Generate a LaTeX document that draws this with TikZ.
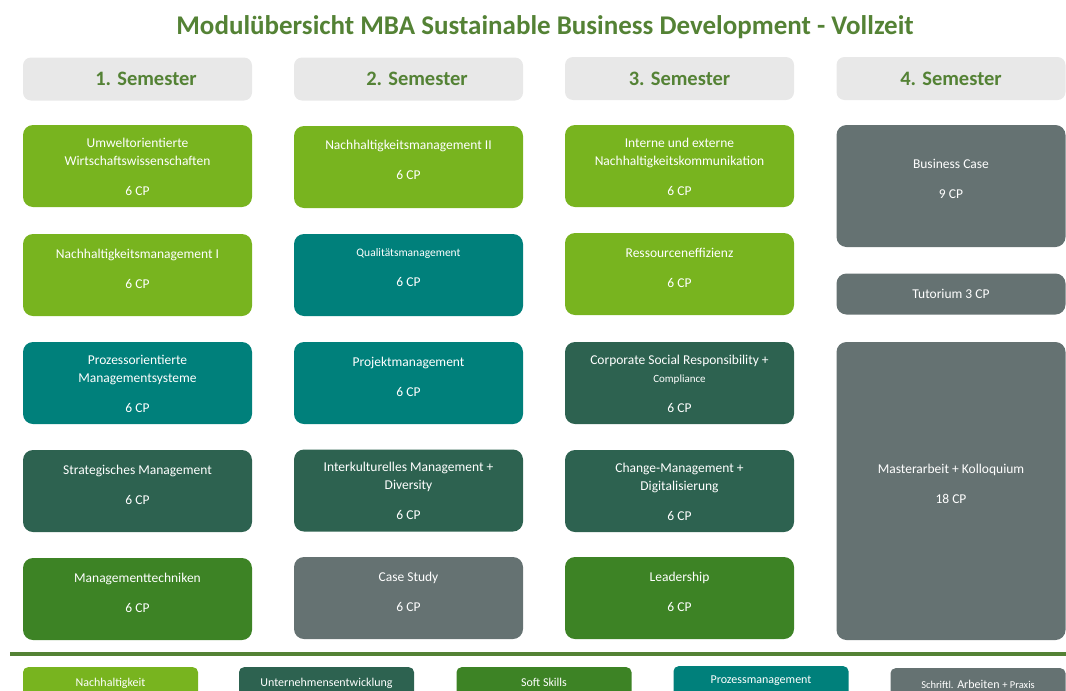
\documentclass[tikz,border=0pt]{standalone}
\usepackage{fontspec}
\setmainfont{Carlito}
\usetikzlibrary{positioning}
\definecolor{nachh}{HTML}{78B41F}
\definecolor{unter}{HTML}{2D6250}
\definecolor{soft}{HTML}{3D8325}
\definecolor{prozess}{HTML}{00807B}
\definecolor{schrift}{HTML}{657272}
\definecolor{kopf}{HTML}{E8E8E8}
\definecolor{titel}{HTML}{548235}

\begin{document}
\begin{tikzpicture}[x=1pt, y=-1pt,
    semester/.style={fill=kopf, rounded corners=8pt, minimum width=229pt, minimum height=43pt, inner sep=0pt},
    semtext/.style={inner sep=0pt, text=titel, font=\fontsize{20.5}{24}\selectfont\bfseries},
    modul/.style={rounded corners=10pt, minimum width=229pt, minimum height=82pt, inner sep=0pt},
    modtext/.style={text=white, align=center, inner sep=0pt, font=\fontsize{13.5}{18}\selectfont},
    legende/.style={rounded corners=5pt, minimum width=175pt, minimum height=40pt, inner sep=0pt, anchor=north},
    legtext/.style={text=white, inner sep=0pt, font=\fontsize{12}{14}\selectfont}]

    \clip (0, 0) rectangle (1066, 691);

    \node[text=titel, font=\fontsize{27}{32}\selectfont\bfseries] (titel) at (545, 27)
      {Modulübersicht MBA Sustainable Business Development - Vollzeit};

    \node[semester] (sem1) at (137.5, 79) {};
    \node[semtext] at ([xshift=8.5pt]sem1.center) {1. Semester};
    \node[semester] (sem2) at (408.5, 79) {};
    \node[semtext] at ([xshift=8.5pt]sem2.center) {2. Semester};
    \node[semester] (sem3) at (679.5, 78.5) {};
    \node[semtext] at (sem3.center) {3. Semester};
    \node[semester] (sem4) at (951, 78.5) {};
    \node[semtext] at (sem4.center) {4. Semester};

    % 1. Semester
    \node[modul, fill=nachh] (m11) at (137.5, 166) {};
    \node[modtext, below=13pt of m11.north] {Umweltorientierte\\Wirtschaftswissenschaften\\[12pt]6 CP};
    \node[modul, fill=nachh] (m12) at (137.5, 275) {};
    \node[modtext, below=15pt of m12.north] {Nachhaltigkeitsmanagement I\\[12pt]6 CP};
    \node[modul, fill=prozess] (m13) at (137.5, 383) {};
    \node[modtext, below=13pt of m13.north] {Prozessorientierte\\Managementsysteme\\[12pt]6 CP};
    \node[modul, fill=unter] (m14) at (137.5, 491) {};
    \node[modtext, below=15pt of m14.north] {Strategisches Management\\[12pt]6 CP};
    \node[modul, fill=soft] (m15) at (137.5, 599) {};
    \node[modtext, below=15pt of m15.north] {Managementtechniken\\[12pt]6 CP};

    % 2. Semester
    \node[modul, fill=nachh] (m21) at (408.5, 167) {};
    \node[modtext, below=14pt of m21.north] {Nachhaltigkeitsmanagement II\\[12pt]6 CP};
    \node[modul, fill=prozess] (m22) at (408.5, 275) {};
    \node[modtext, below=15pt of m22.north] {{\fontsize{11.5}{18}\selectfont Qualitätsmanagement}\\[12pt]6 CP};
    \node[modul, fill=prozess] (m23) at (408.5, 383) {};
    \node[modtext, below=15pt of m23.north] {Projektmanagement\\[12pt]6 CP};
    \node[modul, fill=unter] (m24) at (408.5, 490.5) {};
    \node[modtext, below=13pt of m24.north] {Interkulturelles Management +\\Diversity\\[12pt]6 CP};
    \node[modul, fill=schrift] (m25) at (408.5, 598) {};
    \node[modtext, below=15pt of m25.north] {Case Study\\[12pt]6 CP};

    % 3. Semester
    \node[modul, fill=nachh] (m31) at (679.5, 166) {};
    \node[modtext, below=13pt of m31.north] {Interne und externe\\Nachhaltigkeitskommunikation\\[12pt]6 CP};
    \node[modul, fill=nachh] (m32) at (679.5, 274) {};
    \node[modtext, below=15pt of m32.north] {Ressourceneffizienz\\[12pt]6 CP};
    \node[modul, fill=unter] (m33) at (679.5, 383) {};
    \node[modtext, below=13pt of m33.north] {Corporate Social Responsibility +\\{\fontsize{11}{18}\selectfont Compliance}\\[12pt]6 CP};
    \node[modul, fill=unter] (m34) at (679.5, 491) {};
    \node[modtext, below=13pt of m34.north] {Change-Management +\\Digitalisierung\\[12pt]6 CP};
    \node[modul, fill=soft] (m35) at (679.5, 598) {};
    \node[modtext, below=15pt of m35.north] {Leadership\\[12pt]6 CP};

    % 4. Semester
    \node[modul, fill=schrift, minimum height=122pt] (m41) at (951, 186) {};
    \node[modtext, below=34pt of m41.north] {Business Case\\[12pt]9 CP};
    \node[modul, fill=schrift, minimum height=41pt, modtext] (m42) at (951, 294) {Tutorium 3 CP};
    \node[modul, fill=schrift, minimum height=298pt] (m43) at (951, 491) {};
    \node[modtext, below=122pt of m43.north] {Masterarbeit + Kolloquium\\[12pt]18 CP};

    \draw[titel, line width=4pt] (10, 654) -- (1066, 654);

    % Legende
    \node[legende, fill=nachh] (l1) at (110.5, 667) {};
    \node[legtext, below=11pt of l1.north] {Nachhaltigkeit};
    \node[legende, fill=unter] (l2) at (326.5, 667) {};
    \node[legtext, below=11pt of l2.north] {Unternehmensentwicklung};
    \node[legende, fill=soft] (l3) at (544, 667) {};
    \node[legtext, below=11pt of l3.north] {Soft Skills};
    \node[legende, fill=prozess] (l4) at (761, 666) {};
    \node[legtext, below=10pt of l4.north] {Prozessmanagement};
    \node[legende, fill=schrift] (l5) at (978, 668) {};
    \node[legtext, below=12pt of l5.north] {{\fontsize{10.5}{14}\selectfont Schriftl.} Arbeiten {\fontsize{10.5}{14}\selectfont + Praxis}};

  \end{tikzpicture}
\end{document}
